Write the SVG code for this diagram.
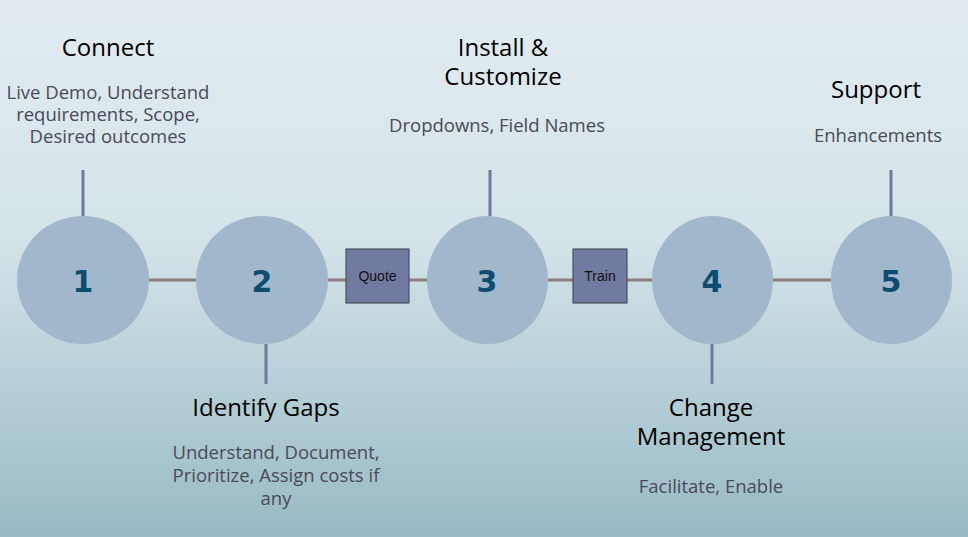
<svg xmlns="http://www.w3.org/2000/svg" width="968" height="537" viewBox="0 0 968 537">
<defs>
<linearGradient id="bg" x1="0" y1="0" x2="0" y2="1">
<stop offset="0" stop-color="#e2ecf0"/>
<stop offset="0.45" stop-color="#d3e3e8"/>
<stop offset="1" stop-color="#98bac4"/>
</linearGradient>
</defs>
<style>
.circ{fill:#a0b7cc}
.num{font-family:"DejaVu Sans",sans-serif;font-weight:bold;font-size:30px;fill:#0d4d70;text-anchor:middle}
.box{fill:#717aa0;stroke:#4c5162;stroke-width:1.2}
.blabel{font-family:"Liberation Sans",Arial,sans-serif;font-size:14px;fill:#111;text-anchor:middle}
.title{font-family:"Open Sans","Liberation Sans",sans-serif;font-size:24px;fill:#000;text-anchor:middle}
.desc{font-family:"Open Sans","Liberation Sans",sans-serif;font-size:18.5px;fill:#4a4a58;text-anchor:middle}
.hline{stroke:#8c7c78;stroke-width:3}
.vline{stroke:#7078a0;stroke-width:3}
</style>
<rect width="968" height="537" fill="url(#bg)"/>
<g id="connectors">
<line class="hline" x1="149" y1="280" x2="196" y2="280"/>
<line class="hline" x1="328" y1="280" x2="346" y2="280"/>
<line class="hline" x1="409" y1="280" x2="427" y2="280"/>
<line class="hline" x1="548" y1="280" x2="573" y2="280"/>
<line class="hline" x1="627" y1="280" x2="653" y2="280"/>
<line class="hline" x1="773" y1="280" x2="831" y2="280"/>
<line class="vline" x1="83" y1="170" x2="83" y2="216"/>
<line class="vline" x1="266" y1="344" x2="266" y2="384"/>
<line class="vline" x1="490" y1="170" x2="490" y2="216"/>
<line class="vline" x1="712" y1="344" x2="712" y2="384"/>
<line class="vline" x1="891" y1="170" x2="891" y2="216"/>
</g>
<g id="step1">
<ellipse class="circ" cx="83" cy="280" rx="66" ry="64"/>
<text class="num" x="83" y="292">1</text>
<text class="title" x="108" y="56">Connect</text>
<text class="desc" x="108" y="99">Live Demo, Understand</text>
<text class="desc" x="108" y="121">requirements, Scope,</text>
<text class="desc" x="108" y="143">Desired outcomes</text>
</g>
<g id="step2">
<ellipse class="circ" cx="262" cy="280" rx="66" ry="64"/>
<text class="num" x="262" y="292">2</text>
<text class="title" x="266" y="416">Identify Gaps</text>
<text class="desc" x="276" y="459">Understand, Document,</text>
<text class="desc" x="276" y="482">Prioritize, Assign costs if</text>
<text class="desc" x="276" y="505">any</text>
</g>
<g id="quote">
<rect class="box" x="346" y="249" width="63" height="54"/>
<text class="blabel" x="377.5" y="281">Quote</text>
</g>
<g id="step3">
<ellipse class="circ" cx="487.5" cy="280" rx="60.5" ry="64"/>
<text class="num" x="487" y="292">3</text>
<text class="title" x="503" y="56">Install &amp;</text>
<text class="title" x="503" y="85">Customize</text>
<text class="desc" x="497" y="132">Dropdowns, Field Names</text>
</g>
<g id="train">
<rect class="box" x="573" y="249" width="54" height="54"/>
<text class="blabel" x="600" y="281">Train</text>
</g>
<g id="step4">
<ellipse class="circ" cx="712.5" cy="280" rx="60.5" ry="64"/>
<text class="num" x="712" y="292">4</text>
<text class="title" x="711" y="416">Change</text>
<text class="title" x="711" y="445">Management</text>
<text class="desc" x="711" y="493">Facilitate, Enable</text>
</g>
<g id="step5">
<ellipse class="circ" cx="891.5" cy="280" rx="60.5" ry="64"/>
<text class="num" x="891" y="292">5</text>
<text class="title" x="876" y="98">Support</text>
<text class="desc" x="878" y="142">Enhancements</text>
</g>
</svg>
